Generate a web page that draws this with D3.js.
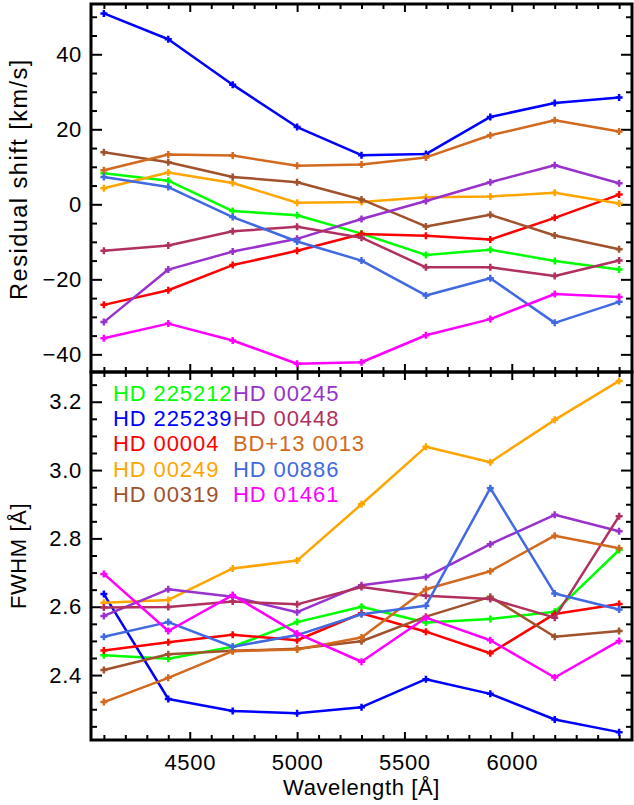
<!DOCTYPE html>
<html>
<head>
<meta charset="utf-8">
<script src="https://cdn.jsdelivr.net/npm/d3@7"></script>
<style>
  body { margin: 0; background: #fff; }
  text { font-family: "Liberation Sans", Arial, Helvetica, sans-serif; }
</style>
</head>
<body>
<script>
// wavelengths of the bins
let wavelengths = [4100, 4400, 4700, 5000, 5300, 5600, 5900, 6200, 6500];

let stars = ['HD 225212', 'HD 225239', 'HD 00004', 'HD 00249', 'HD 00319',
             'HD 00245', 'HD 00448', 'BD+13 0013', 'HD 00886', 'HD 01461'];
let colors = ['#00ff00', '#0000ff', '#ff0000', '#ffa500', '#a0522d',
              '#9932cc', '#b03060', '#d2691e', '#4169e1', '#ff00ff'];

// residual shift [km/s], one row per star
let shift225212 = [8.3, 6.3, -1.8, -2.9, -7.8, -13.5, -12.1, -15.1, -17.4];
let shift225239 = [50.9, 44.0, 31.9, 20.6, 13.1, 13.4, 23.3, 27.0, 28.5];
let shift00004  = [-26.8, -22.9, -16.2, -12.4, -7.9, -8.4, -9.4, -3.6, 2.6];
let shift00249  = [4.3, 8.5, 5.7, 0.4, 0.6, 1.9, 2.1, 3.1, 0.2];
let shift00319  = [13.9, 11.2, 7.3, 5.9, 1.3, -5.9, -2.8, -8.3, -12.0];
let shift00245  = [-31.4, -17.4, -12.6, -9.2, -3.9, 0.9, 5.9, 10.4, 5.6];
let shift00448  = [-12.4, -11.0, -7.2, -6.0, -8.9, -16.8, -16.8, -19.1, -15.0];
let shiftBD13   = [9.1, 13.3, 13.0, 10.3, 10.6, 12.5, 18.4, 22.4, 19.4];
let shift00886  = [7.3, 4.6, -3.4, -9.9, -15.0, -24.3, -19.7, -31.6, -26.0];
let shift01461  = [-35.7, -31.8, -36.3, -42.5, -42.1, -34.9, -30.6, -23.9, -24.7];

// FWHM [Å]
let fwhm225212 = [2.458, 2.448, 2.483, 2.555, 2.600, 2.554, 2.564, 2.585, 2.766];
let fwhm225239 = [2.637, 2.330, 2.295, 2.288, 2.306, 2.388, 2.345, 2.270, 2.233];
let fwhm00004  = [2.472, 2.496, 2.518, 2.502, 2.581, 2.527, 2.464, 2.579, 2.608];
let fwhm00249  = [2.612, 2.620, 2.712, 2.735, 2.900, 3.068, 3.023, 3.147, 3.261];
let fwhm00319  = [2.415, 2.461, 2.471, 2.477, 2.499, 2.571, 2.629, 2.512, 2.529];
let fwhm00245  = [2.573, 2.651, 2.629, 2.584, 2.663, 2.687, 2.783, 2.869, 2.821];
let fwhm00448  = [2.598, 2.599, 2.615, 2.607, 2.658, 2.632, 2.623, 2.568, 2.865];
let fwhmBD13   = [2.321, 2.392, 2.470, 2.475, 2.510, 2.651, 2.704, 2.808, 2.771];
let fwhm00886  = [2.512, 2.555, 2.483, 2.517, 2.578, 2.603, 2.947, 2.639, 2.592];
let fwhm01461  = [2.696, 2.529, 2.634, 2.522, 2.439, 2.568, 2.502, 2.393, 2.500];

let shifts = [shift225212, shift225239, shift00004, shift00249, shift00319,
              shift00245, shift00448, shiftBD13, shift00886, shift01461];
let fwhms = [fwhm225212, fwhm225239, fwhm00004, fwhm00249, fwhm00319,
             fwhm00245, fwhm00448, fwhmBD13, fwhm00886, fwhm01461];

let xMajor = [4500, 5000, 5500, 6000];
let shiftMajor = [-40, -20, 0, 20, 40];
let fwhmMajor = [2.4, 2.6, 2.8, 3.0, 3.2];

let width = 634, height = 805;
let left = 91, right = 632;
let top1 = 4, mid = 372, bottom2 = 740;

let svg = d3.select('body').append('svg')
    .attr('width', width)
    .attr('height', height);

let x = d3.scaleLinear().domain([4040, 6560]).range([left, right]);
let yShift = d3.scaleLinear().domain([-44.7, 53.4]).range([mid, top1]);
let yFwhm = d3.scaleLinear().domain([2.21, 3.287]).range([bottom2, mid]);

let fontSize = 22;

function styleLabels(sel) {
    sel.selectAll('text')
        .style('font-size', fontSize + 'px')
        .style('letter-spacing', '0.7px')
        .attr('fill', '#000');
}

function drawPanel(y, yMajor, yMinorStep, yFmt, yTop, yBottom, data, showX) {
    let g = svg.append('g');

    let xMinor = d3.range(4100, 6560, 100).filter(v => !xMajor.includes(v));
    let lo = y.domain()[0], hi = y.domain()[1];
    let yMinor = d3.range(Math.ceil(lo / yMinorStep) * yMinorStep, hi, yMinorStep)
        .filter(v => !yMajor.some(m => Math.abs(m - v) < 1e-6));

    // left axis with labels
    g.append('g').attr('transform', 'translate(' + left + ',0)')
        .call(d3.axisLeft(y).tickValues(yMajor).tickFormat(yFmt).tickSize(-11).tickPadding(9))
        .call(styleLabels);
    g.append('g').attr('transform', 'translate(' + left + ',0)')
        .call(d3.axisLeft(y).tickValues(yMinor).tickFormat('').tickSize(-6));
    // right axis
    g.append('g').attr('transform', 'translate(' + right + ',0)')
        .call(d3.axisRight(y).tickValues(yMajor).tickFormat('').tickSize(-11));
    g.append('g').attr('transform', 'translate(' + right + ',0)')
        .call(d3.axisRight(y).tickValues(yMinor).tickFormat('').tickSize(-6));
    // bottom axis
    g.append('g').attr('transform', 'translate(0,' + yBottom + ')')
        .call(d3.axisBottom(x).tickValues(xMajor).tickFormat(showX ? d3.format('d') : '').tickSize(-8).tickPadding(14))
        .call(styleLabels);
    g.append('g').attr('transform', 'translate(0,' + yBottom + ')')
        .call(d3.axisBottom(x).tickValues(xMinor).tickFormat('').tickSize(-5));
    // top axis
    g.append('g').attr('transform', 'translate(0,' + yTop + ')')
        .call(d3.axisTop(x).tickValues(xMajor).tickFormat('').tickSize(-8));
    g.append('g').attr('transform', 'translate(0,' + yTop + ')')
        .call(d3.axisTop(x).tickValues(xMinor).tickFormat('').tickSize(-5));

    g.selectAll('.domain').remove();
    g.selectAll('.tick line').attr('stroke', '#000').attr('stroke-width', 2);

    // frame
    g.append('rect')
        .attr('x', left).attr('y', yTop)
        .attr('width', right - left).attr('height', yBottom - yTop)
        .attr('fill', 'none').attr('stroke', '#000').attr('stroke-width', 3);

    let line = d3.line()
        .x((d, i) => x(wavelengths[i]))
        .y(d => y(d));

    data.forEach((vals, k) => {
        g.append('path')
            .datum(vals)
            .attr('d', line)
            .attr('fill', 'none')
            .attr('stroke', colors[k])
            .attr('stroke-width', 2.5)
            .attr('stroke-linejoin', 'round');

        // plus markers
        g.selectAll('.mk' + k)
            .data(vals)
            .enter()
            .append('path')
            .attr('class', 'mk' + k)
            .attr('d', (d, i) => {
                let cx = x(wavelengths[i]), cy = y(d), s = 3.5;
                return 'M' + (cx - s) + ',' + cy + 'H' + (cx + s) +
                       'M' + cx + ',' + (cy - s) + 'V' + (cy + s);
            })
            .attr('stroke', colors[k])
            .attr('stroke-width', 2.5);
    });
}

drawPanel(yShift, shiftMajor, 5, d3.format('d'), top1, mid, shifts, false);
drawPanel(yFwhm, fwhmMajor, 0.05, d3.format('.1f'), mid, bottom2, fwhms, true);

// axis titles
svg.append('text')
    .attr('transform', 'translate(27,179) rotate(-90)')
    .attr('text-anchor', 'middle')
    .style('font-size', '23.5px')
    .style('letter-spacing', '1.5px')
    .text('Residual shift [km/s]');

svg.append('text')
    .attr('transform', 'translate(26,' + ((mid + bottom2) / 2) + ') rotate(-90)')
    .attr('text-anchor', 'middle')
    .style('font-size', fontSize + 'px')
    .style('letter-spacing', '0.6px')
    .text('FWHM [Å]');

svg.append('text')
    .attr('x', (left + right) / 2)
    .attr('y', 795)
    .attr('text-anchor', 'middle')
    .style('font-size', fontSize + 'px')
    .style('letter-spacing', '0.6px')
    .text('Wavelength [Å]');

// legend, two columns of five
let legend = svg.append('g');
stars.forEach((name, k) => {
    let col = Math.floor(k / 5), row = k % 5;
    legend.append('text')
        .attr('x', col === 0 ? 113 : 233)
        .attr('y', 401 + row * 25.2)
        .attr('fill', colors[k])
        .style('font-size', '22px')
        .style('letter-spacing', '0.9px')
        .text(name);
});
</script>
</body>
</html>
